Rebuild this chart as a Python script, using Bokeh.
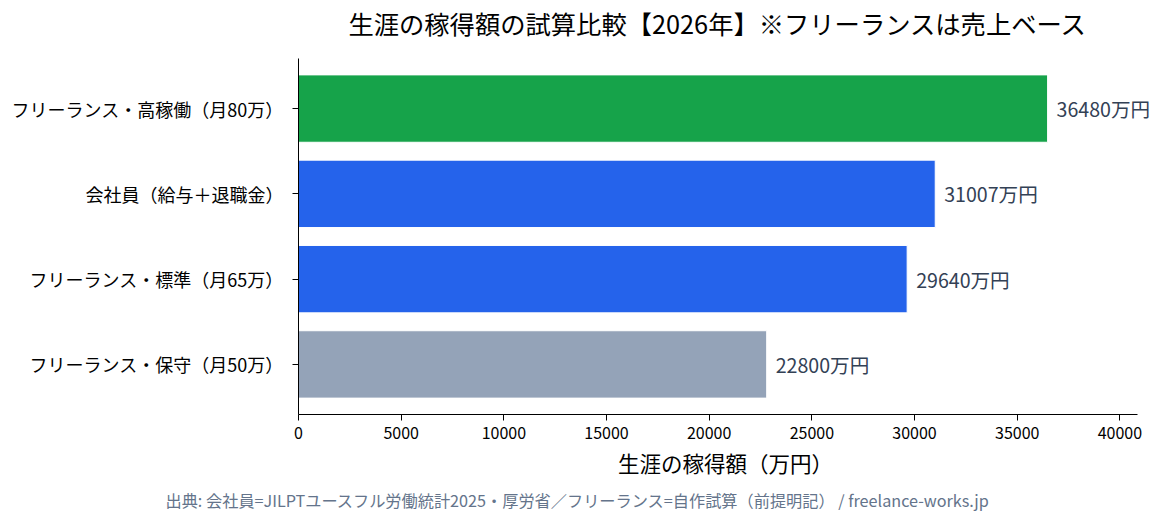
from bokeh.plotting import figure
from bokeh.layouts import column
from bokeh.models import Title, FactorRange, Range1d, FixedTicker, BasicTickFormatter, ColumnDataSource
from bokeh.embed import file_html
from bokeh.resources import INLINE
from bokeh.core.properties import value

FONT = "Noto Sans CJK JP"

categories = ["フリーランス・保守（月50万）", "フリーランス・標準（月65万）",
              "会社員（給与＋退職金）", "フリーランス・高稼働（月80万）"]
values = [22800, 29640, 31007, 36480]
colors = ["#94a3b8", "#2563eb", "#2563eb", "#16a34a"]
value_labels = [f"{v}万円" for v in values]
x_ticks = [0, 5000, 10000, 15000, 20000, 25000, 30000, 35000, 40000]
title_text = "生涯の稼得額の試算比較【2026年】※フリーランスは売上ベース"
x_label = "生涯の稼得額（万円）"
footer_text = "出典: 会社員=JILPTユースフル労働統計2025・厚労省／フリーランス=自作試算（前提明記） / freelance-works.jp"

W, H = 1152, 516
TH = 50                                 # height of the title strip
FL, FR, FT, FB = 298, 1152, 58, 417     # frame edges in page pixels
SPINE_R = 1137                          # right end of bottom spine
axis_end = max(values) * 1.12
x_end = axis_end * (FR - FL) / (SPINE_R - FL)

# ---- title strip (pixel coordinates) ----
t = figure(width=W, height=TH, output_backend="svg", toolbar_location=None,
           x_range=Range1d(FL, FR), y_range=Range1d(0, TH),
           min_border_left=FL, min_border_right=W - FR,
           min_border_top=0, min_border_bottom=0)
t.axis.visible = False
t.grid.visible = False
t.outline_line_color = None
t.background_fill_color = "white"
t.border_fill_color = "white"
t.text(x=[(FL + SPINE_R) / 2], y=[TH - 22], text=[title_text], text_align="center",
       text_baseline="middle", text_font=value(FONT), text_font_size="25.3px",
       text_color="black")

# ---- main chart ----
src = ColumnDataSource(dict(cat=categories, val=values, color=colors, lab=value_labels))

MH = H - TH
p = figure(width=W, height=MH, output_backend="svg", toolbar_location=None,
           y_range=FactorRange(factors=categories, range_padding=0.0435, range_padding_units="percent"),
           x_range=Range1d(0, x_end),
           min_border_left=FL, min_border_right=W - FR, min_border_top=FT - TH,
           min_border_bottom=H - FB)

p.hbar(y="cat", right="val", left=0, height=0.79, color="color", line_color="white",
       line_width=1, source=src)
p.text(x="val", y="cat", text="lab", source=src, x_offset=9, text_align="left",
       text_baseline="middle", text_font=value(FONT), text_font_size="19.6px", text_color="#334155")

p.outline_line_color = None
p.xgrid.grid_line_color = None
p.ygrid.grid_line_color = None
p.background_fill_color = "white"
p.border_fill_color = "white"

xa = p.xaxis[0]
xa.bounds = (0, axis_end)
xa.ticker = FixedTicker(ticks=x_ticks)
xa.formatter = BasicTickFormatter(use_scientific=False)
xa.minor_tick_line_color = None
xa.major_tick_in = 0
xa.major_tick_out = 6
xa.axis_line_color = "black"
xa.major_tick_line_color = "black"
xa.major_label_text_font = FONT
xa.major_label_text_font_size = "16px"
xa.major_label_text_color = "black"
xa.major_label_standoff = 6
xa.axis_label = x_label
xa.axis_label_text_font = FONT
xa.axis_label_text_font_size = "21.5px"
xa.axis_label_text_font_style = "normal"
xa.axis_label_text_color = "black"
xa.axis_label_standoff = 5

ya = p.yaxis[0]
ya.major_tick_in = 0
ya.major_tick_out = 6
ya.axis_line_color = "black"
ya.major_tick_line_color = "black"
ya.major_label_text_font = FONT
ya.major_label_text_font_size = "18px"
ya.major_label_text_color = "black"
ya.major_label_standoff = 9

footer = Title(text=footer_text, align="left", offset=165 - FL, text_font=FONT,
               text_font_size="16.2px", text_font_style="normal", text_color="#64748b")
p.add_layout(footer, "below")

layout = column(t, p, spacing=0)
open("out.html", "w").write(file_html(layout, INLINE))
